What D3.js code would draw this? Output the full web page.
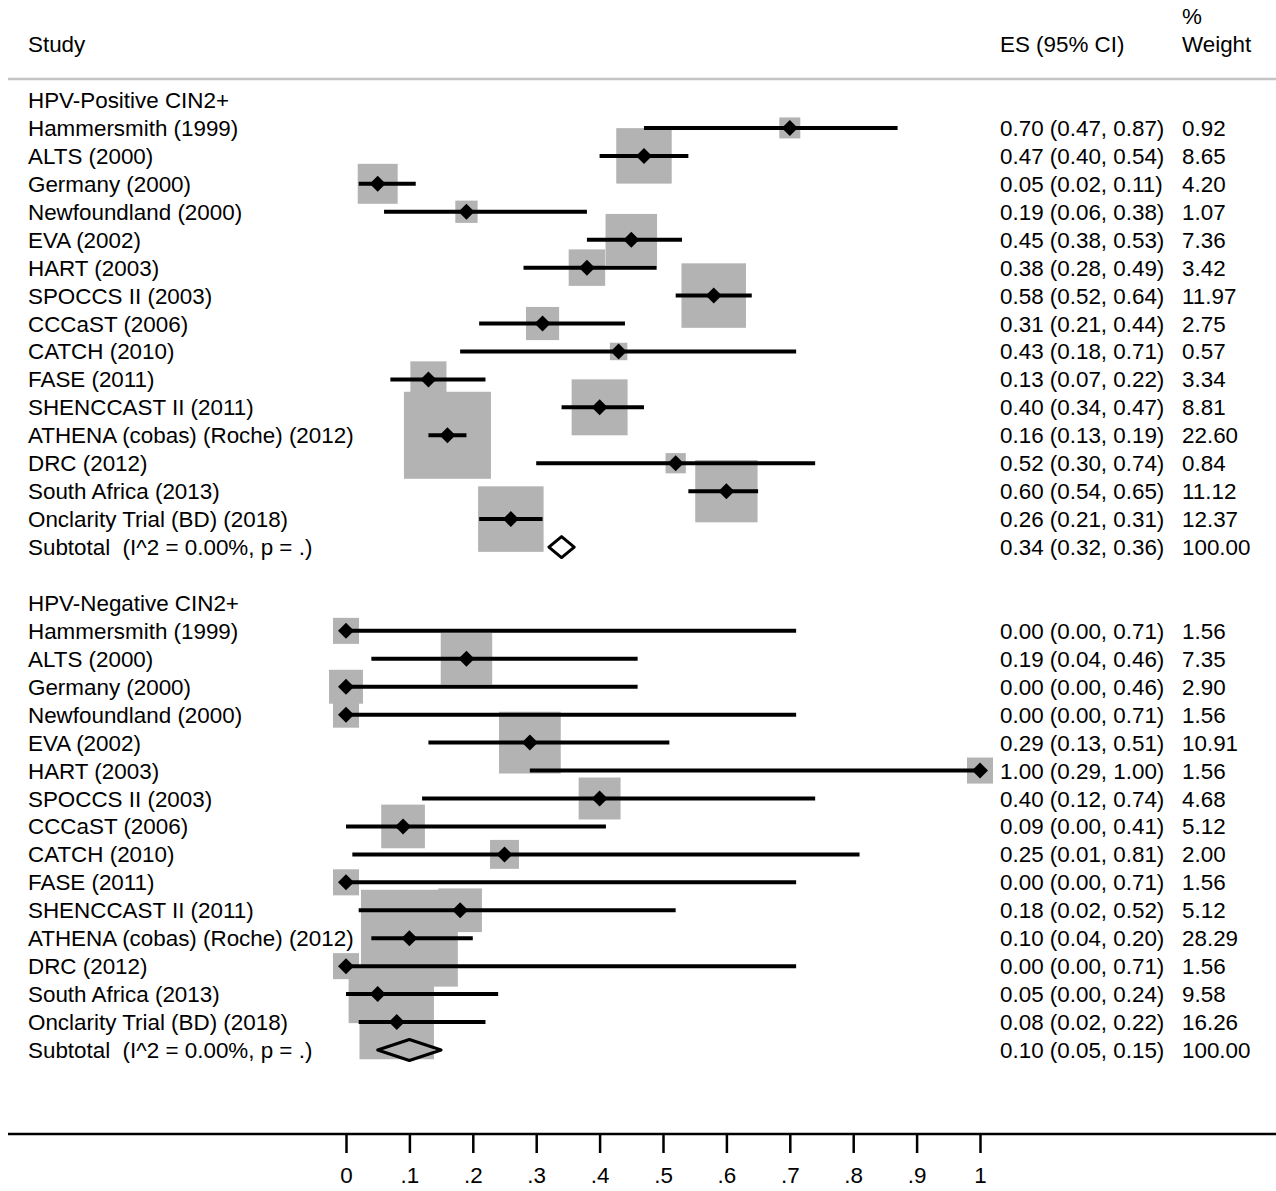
<!DOCTYPE html>
<html>
<head>
<meta charset="utf-8">
<script src="https://cdn.jsdelivr.net/npm/d3@7"></script>
<style>
  html, body { margin: 0; padding: 0; background: #fff; }
  svg text { font-family: "Liberation Sans", Arial, Helvetica, sans-serif; fill: #000; }
</style>
</head>
<body>
<svg id="chart" width="1276" height="1191"></svg>
<script>
// ---------- DATA ----------
const studies = [
  "Hammersmith (1999)", "ALTS (2000)", "Germany (2000)", "Newfoundland (2000)",
  "EVA (2002)", "HART (2003)", "SPOCCS II (2003)", "CCCaST (2006)",
  "CATCH (2010)", "FASE (2011)", "SHENCCAST II (2011)",
  "ATHENA (cobas) (Roche) (2012)", "DRC (2012)", "South Africa (2013)",
  "Onclarity Trial (BD) (2018)"
];

const groupNames = ["HPV-Positive CIN2+", "HPV-Negative CIN2+"];
const subtotalLabel = "Subtotal  (I^2 = 0.00%, p = .)";

// HPV-Positive CIN2+
const posES     = [0.70, 0.47, 0.05, 0.19, 0.45, 0.38, 0.58, 0.31, 0.43, 0.13, 0.40, 0.16, 0.52, 0.60, 0.26];
const posLo     = [0.47, 0.40, 0.02, 0.06, 0.38, 0.28, 0.52, 0.21, 0.18, 0.07, 0.34, 0.13, 0.30, 0.54, 0.21];
const posHi     = [0.87, 0.54, 0.11, 0.38, 0.53, 0.49, 0.64, 0.44, 0.71, 0.22, 0.47, 0.19, 0.74, 0.65, 0.31];
const posWeight = [0.92, 8.65, 4.20, 1.07, 7.36, 3.42, 11.97, 2.75, 0.57, 3.34, 8.81, 22.60, 0.84, 11.12, 12.37];
const posSubtotal = { es: 0.34, lo: 0.32, hi: 0.36, w: 100.00 };

// HPV-Negative CIN2+
const negES     = [0.00, 0.19, 0.00, 0.00, 0.29, 1.00, 0.40, 0.09, 0.25, 0.00, 0.18, 0.10, 0.00, 0.05, 0.08];
const negLo     = [0.00, 0.04, 0.00, 0.00, 0.13, 0.29, 0.12, 0.00, 0.01, 0.00, 0.02, 0.04, 0.00, 0.00, 0.02];
const negHi     = [0.71, 0.46, 0.46, 0.71, 0.51, 1.00, 0.74, 0.41, 0.81, 0.71, 0.52, 0.20, 0.71, 0.24, 0.22];
const negWeight = [1.56, 7.35, 2.90, 1.56, 10.91, 1.56, 4.68, 5.12, 2.00, 1.56, 5.12, 28.29, 1.56, 9.58, 16.26];
const negSubtotal = { es: 0.10, lo: 0.05, hi: 0.15, w: 100.00 };

const tickValues = [0, 0.1, 0.2, 0.3, 0.4, 0.5, 0.6, 0.7, 0.8, 0.9, 1];
const tickLabels = ["0", ".1", ".2", ".3", ".4", ".5", ".6", ".7", ".8", ".9", "1"];

// ---------- BUILD ROWS ----------
function buildGroup(name, es, lo, hi, w, sub) {
  const rows = [{ type: "header", label: name }];
  studies.forEach((s, i) => rows.push({ type: "study", label: s, es: es[i], lo: lo[i], hi: hi[i], w: w[i] }));
  rows.push({ type: "subtotal", label: subtotalLabel, es: sub.es, lo: sub.lo, hi: sub.hi, w: sub.w });
  return rows;
}
const rows = [
  ...buildGroup(groupNames[0], posES, posLo, posHi, posWeight, posSubtotal),
  { type: "blank" },
  ...buildGroup(groupNames[1], negES, negLo, negHi, negWeight, negSubtotal)
];
rows.forEach((r, i) => r.idx = i);

// ---------- SCALES ----------
const svg = d3.select("#chart");
const x = d3.scaleLinear().domain([0, 1]).range([346, 980]);
const y = d3.scaleLinear().domain([0, rows.length - 1]).range([100, 100 + (rows.length - 1) * 27.94]);
const boxSide = d3.scaleSqrt().domain([0, 1]).range([0, 17.4]);
const FS = 22.4;
const fmt = d3.format(".2f");

// ---------- HEADER ----------
svg.append("text").attr("x", 28).attr("y", 52).attr("font-size", FS).text("Study");
svg.append("text").attr("x", 1000).attr("y", 52).attr("font-size", FS).text("ES (95% CI)");
svg.append("text").attr("x", 1182).attr("y", 24).attr("font-size", FS).text("%");
svg.append("text").attr("x", 1182).attr("y", 52).attr("font-size", FS).text("Weight");
svg.append("line").attr("x1", 8).attr("x2", 1276).attr("y1", 79).attr("y2", 79)
  .attr("stroke", "#c4c4c4").attr("stroke-width", 2.5);

// ---------- BOXES (under everything) ----------
const studyRows = rows.filter(r => r.type === "study");
svg.append("g").selectAll("rect").data(studyRows).join("rect")
  .attr("x", d => x(d.es) - (boxSide(d.w) + 4.3) / 2)
  .attr("y", d => y(d.idx) - (boxSide(d.w) + 4.3) / 2)
  .attr("width", d => boxSide(d.w) + 4.3)
  .attr("height", d => boxSide(d.w) + 4.3)
  .attr("fill", "#b3b3b3");

// ---------- CI LINES ----------
svg.append("g").selectAll("line").data(studyRows).join("line")
  .attr("x1", d => x(d.lo)).attr("x2", d => x(d.hi))
  .attr("y1", d => y(d.idx)).attr("y2", d => y(d.idx))
  .attr("stroke", "#000").attr("stroke-width", 4);

// ---------- POINT DIAMONDS ----------
const pd = 8;
svg.append("g").selectAll("path").data(studyRows).join("path")
  .attr("d", d => {
    const cx = x(d.es), cy = y(d.idx);
    return `M${cx - pd},${cy}L${cx},${cy - pd}L${cx + pd},${cy}L${cx},${cy + pd}Z`;
  })
  .attr("fill", "#000");

// ---------- SUBTOTAL DIAMONDS ----------
const subRows = rows.filter(r => r.type === "subtotal");
svg.append("g").selectAll("path").data(subRows).join("path")
  .attr("d", d => {
    const cy = y(d.idx), h = 10.5;
    return `M${x(d.lo)},${cy}L${x(d.es)},${cy - h}L${x(d.hi)},${cy}L${x(d.es)},${cy + h}Z`;
  })
  .attr("fill", "none").attr("stroke", "#000").attr("stroke-width", 3)
  .attr("stroke-linejoin", "round");

// ---------- TEXT COLUMNS ----------
const textRows = rows.filter(r => r.type !== "blank");
svg.append("g").selectAll("text").data(textRows).join("text")
  .attr("x", 28).attr("y", d => y(d.idx) + 8).attr("font-size", FS)
  .attr("xml:space", "preserve").style("white-space", "pre")
  .text(d => d.label);

const valRows = rows.filter(r => r.type === "study" || r.type === "subtotal");
svg.append("g").selectAll("text").data(valRows).join("text")
  .attr("x", 1000).attr("y", d => y(d.idx) + 8).attr("font-size", FS)
  .text(d => `${fmt(d.es)} (${fmt(d.lo)}, ${fmt(d.hi)})`);
svg.append("g").selectAll("text").data(valRows).join("text")
  .attr("x", 1182).attr("y", d => y(d.idx) + 8).attr("font-size", FS)
  .text(d => fmt(d.w));

// ---------- AXIS ----------
const axisY = 1134;
const axis = d3.axisBottom(x).tickValues(tickValues).tickSize(19).tickSizeOuter(0)
  .tickFormat((d, i) => tickLabels[i]);
const ag = svg.append("g").attr("transform", `translate(0,${axisY})`).call(axis);
ag.select(".domain").remove();
ag.selectAll(".tick line").attr("stroke", "#000").attr("stroke-width", 2.5);
ag.selectAll(".tick text").attr("y", 49).attr("dy", 0).attr("font-size", FS)
  .attr("font-family", '"Liberation Sans", Arial, sans-serif').attr("fill", "#000");
svg.append("line").attr("x1", 8).attr("x2", 1276).attr("y1", axisY).attr("y2", axisY)
  .attr("stroke", "#000").attr("stroke-width", 2.5);
</script>
</body>
</html>
